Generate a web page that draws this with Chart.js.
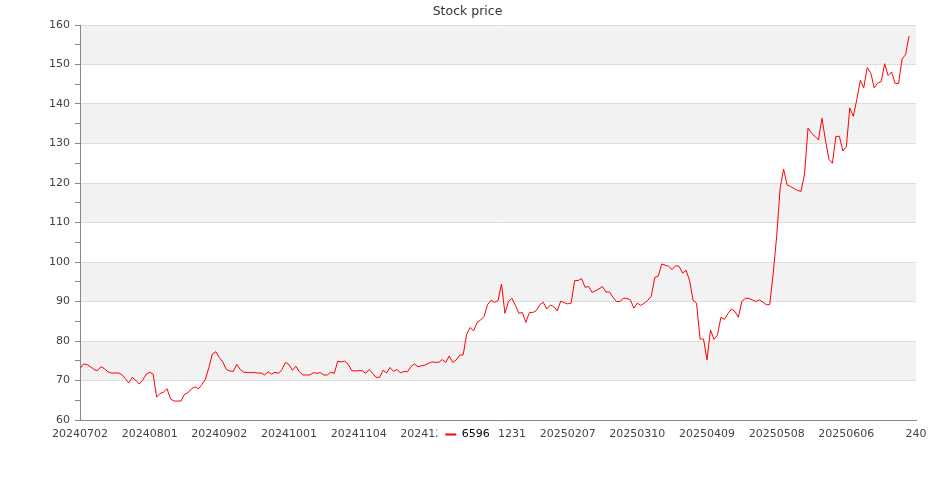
<!doctype html>
<html>

<head>
    <title>Stock price</title>
    <script src="https://cdn.jsdelivr.net/npm/chart.js"></script>
    <style>
        body { margin: 0; background: #fff; }
    </style>
</head>

<body>
    <canvas id="grafico" width="935" height="500"></canvas>

    <script>
        // ticker shown in the legend
        var serie = '6596';

        // x tick labels, one every 20 trading days (index 0, 20, ... 240)
        var tickLabels = ['20240702', '20240801', '20240902', '20241001', '20241104', '20241202',
            '20241231', '20250207', '20250310', '20250409', '20250508', '20250606', '240'];

        // closing prices, one per trading day
        var precos = [
            73.0, 74.2, 74.0, 73.5, 72.8, 72.5, 73.5, 73.0, 72.2, 71.9,
            71.9, 71.9, 71.5, 70.5, 69.4, 70.8, 70.1, 69.1, 70.1, 71.6,
            72.1, 71.6, 65.8, 66.7, 67.1, 67.9, 65.3, 64.8, 64.8, 64.8,
            66.5, 66.9, 67.9, 68.4, 67.9, 69.0, 70.3, 73.3, 76.7, 77.3,
            75.8, 74.7, 72.8, 72.4, 72.3, 74.1, 72.8, 72.1, 72.0, 72.0,
            72.0, 71.9, 71.9, 71.4, 72.2, 71.6, 72.1, 71.8, 72.8, 74.6,
            74.0, 72.6, 73.6, 72.2, 71.4, 71.4, 71.4, 72.0, 71.8, 72.0,
            71.4, 71.4, 72.1, 71.8, 74.9, 74.7, 74.9, 74.1, 72.5, 72.4,
            72.5, 72.5, 71.8, 72.8, 71.8, 70.8, 70.8, 72.6, 71.9, 73.3,
            72.3, 72.8, 71.9, 72.3, 72.2, 73.5, 74.2, 73.5, 73.7, 73.9,
            74.3, 74.7, 74.6, 74.6, 75.3, 74.6, 76.2, 74.6, 75.2, 76.4,
            76.5, 81.7, 83.4, 82.6, 84.7, 85.3, 86.2, 89.2, 90.3, 89.8,
            90.2, 94.4, 87.0, 90.0, 90.8, 89.0, 87.0, 87.2, 84.7, 87.2,
            87.2, 87.7, 89.2, 89.8, 88.1, 89.1, 88.7, 87.6, 90.1, 89.7,
            89.4, 89.6, 95.3, 95.3, 95.8, 93.6, 93.8, 92.3, 92.7, 93.2,
            93.8, 92.4, 92.4, 91.1, 90.0, 90.0, 90.8, 90.8, 90.4, 88.3,
            89.6, 89.0, 89.6, 90.3, 91.3, 96.1, 96.4, 99.5, 99.2, 98.9,
            98.1, 99.1, 98.9, 97.2, 97.9, 95.3, 90.3, 89.6, 80.5, 80.5,
            75.2, 82.8, 80.4, 81.5, 86.0, 85.5, 86.9, 88.1, 87.5, 86.0,
            90.0, 90.8, 90.8, 90.4, 90.0, 90.4, 89.9, 89.2, 89.2, 97.0,
            106.5, 118.7, 123.5, 119.5, 119.1, 118.6, 118.1, 117.9, 122.3, 133.9,
            132.6, 131.8, 130.9, 136.4, 130.9, 126.0, 125.0, 131.8, 131.8, 128.1,
            129.2, 139.0, 136.9, 141.1, 146.0, 144.1, 149.2, 147.9, 144.1, 145.3,
            145.7, 150.2, 147.2, 148.1, 145.2, 145.2, 151.4, 152.5, 157.2
        ];

        Chart.defaults.font.family = 'DejaVu Sans';

        var ajustes = {
            id: 'ajustes',
            // titulo e legenda centrados na pagina inteira; legenda sobe ate a linha dos rotulos
            afterLayout(chart) {
                [chart.titleBlock, chart.legend].forEach(b => {
                    b.left = 0;
                    b.right = chart.width;
                    b.width = chart.width;
                });
                const legenda = chart.legend;
                const novoTopo = chart.chartArea.bottom + 9;
                legenda.bottom = novoTopo + legenda.height;
                legenda.top = novoTopo;
            },
            // faixas cinza alternadas atras da linha
            beforeDraw(chart) {
                const ctx = chart.ctx;
                const area = chart.chartArea;
                const y = chart.scales.y;
                ctx.save();
                ctx.fillStyle = '#f2f2f2';
                for (let v = 70; v < 160; v += 20) {
                    const top = y.getPixelForValue(v + 10);
                    const bottom = y.getPixelForValue(v);
                    ctx.fillRect(area.left, top, area.right - area.left, bottom - top);
                }
                ctx.restore();
            },
            // legenda com fundo branco por cima dos rotulos do eixo x
            afterDraw(chart) {
                const legenda = chart.legend;
                const box = legenda.legendHitBoxes[0];
                if (!box) return;
                const ctx = chart.ctx;
                ctx.save();
                ctx.fillStyle = '#ffffff';
                ctx.fillRect(box.left - 8, box.top - 4, box.width + 16, box.height + 8);
                ctx.restore();
                legenda.draw();
            }
        };

        var grafico = new Chart(document.getElementById('grafico').getContext('2d'), {
            type: 'line',
            data: {
                datasets: [{
                    label: serie,
                    data: precos.map((v, i) => ({ x: i, y: v })),
                    borderColor: '#ff0000',
                    backgroundColor: '#ff0000',
                    borderWidth: 1,
                    pointRadius: 0,
                    tension: 0
                }]
            },
            options: {
                responsive: false,
                animation: false,
                layout: {
                    padding: { left: 0, right: 19, top: 0, bottom: 35 }
                },
                plugins: {
                    title: {
                        display: true,
                        text: 'Stock price',
                        color: '#333',
                        font: { size: 12.5, weight: 'normal' },
                        padding: { top: 4.5, bottom: 5.5 }
                    },
                    legend: {
                        position: 'bottom',
                        labels: {
                            usePointStyle: true,
                            pointStyle: 'line',
                            pointStyleWidth: 11,
                            padding: 0,
                            color: '#000',
                            font: { size: 11 },
                            generateLabels(chart) {
                                const itens = Chart.defaults.plugins.legend.labels.generateLabels(chart);
                                itens.forEach(it => { it.lineWidth = 2; });
                                return itens;
                            }
                        }
                    },
                    tooltip: { enabled: false }
                },
                scales: {
                    x: {
                        type: 'linear',
                        min: 0,
                        max: 240,
                        afterFit(scale) { scale.height = 24; },
                        grid: { display: false, drawTicks: false },
                        border: { display: true, color: '#888' },
                        ticks: {
                            stepSize: 20,
                            autoSkip: false,
                            maxRotation: 0,
                            padding: 8,
                            color: '#444',
                            font: { size: 11 },
                            callback: (v) => tickLabels[v / 20]
                        }
                    },
                    y: {
                        min: 60,
                        max: 160,
                        afterFit(scale) { scale.width = 80; },
                        grid: {
                            color: (c) => (c.tick && c.tick.value % 10 === 0) ? '#dddddd' : 'rgba(0,0,0,0)',
                            tickColor: '#888',
                            tickLength: 5
                        },
                        border: { display: true, color: '#888' },
                        ticks: {
                            stepSize: 5,
                            padding: 5,
                            color: '#444',
                            font: { size: 11 },
                            callback: (v) => v % 10 === 0 ? v : ''
                        }
                    }
                }
            },
            plugins: [ajustes]
        });
    </script>
</body>

</html>
